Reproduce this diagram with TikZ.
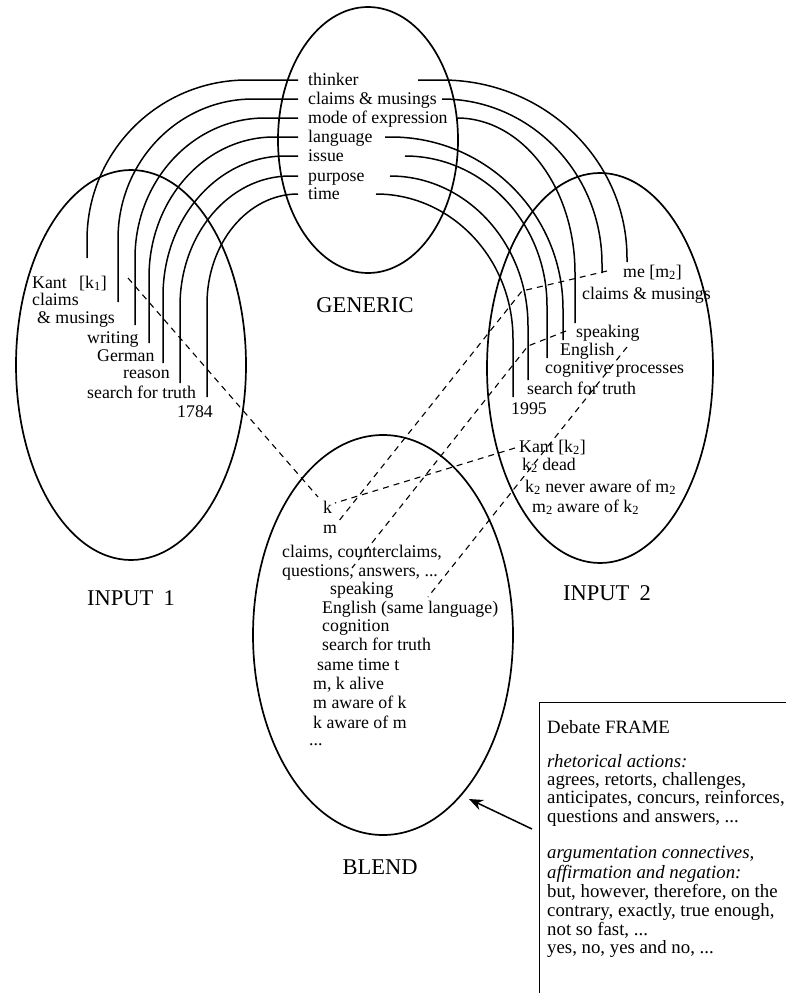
\documentclass[tikz,border=0pt]{standalone}
\usepackage{fontspec}
\setmainfont{Liberation Serif}
\usetikzlibrary{calc,shapes.geometric,arrows.meta}
\begin{document}
\begin{tikzpicture}[x=1pt,y=-1pt,
  txt/.style={anchor=base west,inner sep=0pt,font=\fontsize{17.8}{19}\selectfont},
  ftxt/.style={anchor=base west,inner sep=0pt,font=\fontsize{18.8}{20}\selectfont},
  lbl/.style={inner sep=0pt,font=\fontsize{22.5}{24}\selectfont},
  spacenode/.style={draw,ellipse,line width=1.7pt,inner sep=0pt},
  maparc/.style={line width=1.5pt},
  cross/.style={line width=1.1pt,dash pattern=on 6pt off 5pt},
  larc/.style 2 args={to path={-- ($(\tikztotarget|-\tikztostart)+(#1,0)$)
     .. controls ($(\tikztotarget|-\tikztostart)+({0.4477*#1},0)$) and ($(\tikztotarget|-\tikztostart)+(0,{0.4477*#2})$)
     .. ($(\tikztotarget|-\tikztostart)+(0,#2)$) -- (\tikztotarget)}},
  rarc/.style 2 args={to path={-- ($(\tikztotarget|-\tikztostart)+(-#1,0)$)
     .. controls ($(\tikztotarget|-\tikztostart)+({-0.4477*#1},0)$) and ($(\tikztotarget|-\tikztostart)+(0,{0.4477*#2})$)
     .. ($(\tikztotarget|-\tikztostart)+(0,#2)$) -- (\tikztotarget)}}]
\useasboundingbox (0,0) rectangle (785,993);

% mental spaces
\node[spacenode,minimum width=180pt,minimum height=266pt] (generic) at (368,140) {};
\node[spacenode,minimum width=230pt,minimum height=390pt] (input1) at (131,365) {};
\node[spacenode,minimum width=226pt,minimum height=390pt] (input2) at (600,368) {};
\node[spacenode,minimum width=260pt,minimum height=400pt] (blend) at (383,635) {};

% space labels
\node[lbl] (lgeneric) at (365,305) {GENERIC};
\node[lbl] (linput1) at (131,598) {INPUT\hspace{0.45em}1};
\node[lbl] (linput2) at (607,593) {INPUT\hspace{0.45em}2};
\node[lbl] (lblend) at (380,867) {BLEND};

% generic space
\node[txt] (g1) at (308,85) {thinker};
\node[txt] (g2) at (308,104) {claims \& musings};
\node[txt] (g3) at (308,123) {mode of expression};
\node[txt] (g4) at (308,142) {language};
\node[txt] (g5) at (308,161) {issue};
\node[txt] (g6) at (308,181) {purpose};
\node[txt] (g7) at (308,199) {time};

% input 1
\node[txt] (a1t) at (32,288) {Kant\hspace{0.7em}[k\textsubscript{1}]};
\node[txt] (a2t) at (32,305) {claims};
\node[txt] (a2u) at (37,323) {\& musings};
\node[txt] (a3t) at (87,343) {writing};
\node[txt] (a4t) at (97,361) {German};
\node[txt] (a5t) at (123,378) {reason};
\node[txt] (a6t) at (87,398) {search for truth};
\node[txt] (a7t) at (177,417) {1784};

% input 2
\node[txt] (b1t) at (623,277) {me [m\textsubscript{2}]};
\node[txt] (b2t) at (582,299) {claims \& musings};
\node[txt] (b3t) at (576,337) {speaking};
\node[txt] (b4t) at (560,355) {English};
\node[txt] (b5t) at (545,373) {cognitive processes};
\node[txt] (b6t) at (527,394) {search for truth};
\node[txt] (b7t) at (511,414) {1995};
\node[txt] (b8t) at (519,452) {Kant [k\textsubscript{2}]};
\node[txt] (b9t) at (522,470) {k\textsubscript{2} dead};
\node[txt] (b10t) at (525,492) {k\textsubscript{2} never aware of m\textsubscript{2}};
\node[txt] (b11t) at (532,512) {m\textsubscript{2} aware of k\textsubscript{2}};

% blend
\node[txt] (c1) at (323,513) {k};
\node[txt] (c2) at (323,533) {m};
\node[txt] (c3) at (282,557) {claims, counterclaims,};
\node[txt] (c4) at (282,576) {questions, answers, ...};
\node[txt] (c5) at (330,594) {speaking};
\node[txt] (c6) at (322,613) {English (same language)};
\node[txt] (c7) at (322,631) {cognition};
\node[txt] (c8) at (322,650) {search for truth};
\node[txt] (c9) at (317,670) {same time t};
\node[txt] (c10) at (313,689) {m, k alive};
\node[txt] (c11) at (313,708) {m aware of k};
\node[txt] (c12) at (313,728) {k aware of m};
\node[txt] (c13) at (309,745) {...};

% arc end points
\coordinate (gl1) at (298,80);  \coordinate (gl2) at (298,99);  \coordinate (gl3) at (298,118);
\coordinate (gl4) at (298,137); \coordinate (gl5) at (298,156); \coordinate (gl6) at (298,176);
\coordinate (gl7) at (298,194);
\coordinate (gr1) at (418,80);  \coordinate (gr2) at (442,99);  \coordinate (gr3) at (457,118);
\coordinate (gr4) at (385,137); \coordinate (gr5) at (405,156); \coordinate (gr6) at (390,176);
\coordinate (gr7) at (376,194);
\coordinate (a1) at (87,258);  \coordinate (a2) at (118,302); \coordinate (a3) at (135,325);
\coordinate (a4) at (149,343); \coordinate (a5) at (163,363); \coordinate (a6) at (180,383);
\coordinate (a7) at (207,397);
\coordinate (b1) at (627,262); \coordinate (b2) at (602,273); \coordinate (b3) at (575,323);
\coordinate (b4) at (563,340); \coordinate (b5) at (547,358); \coordinate (b6) at (528,380);
\coordinate (b7) at (513,397);

% generic -> input 1
\draw[maparc] (gl1) to[larc={160}{160}] (a1);
\draw[maparc] (gl2) to[larc={135}{140}] (a2);
\draw[maparc] (gl3) to[larc={130}{140}] (a3);
\draw[maparc] (gl4) to[larc={125}{140}] (a4);
\draw[maparc] (gl5) to[larc={122}{140}] (a5);
\draw[maparc] (gl6) to[larc={110}{130}] (a6);
\draw[maparc] (gl7) to[larc={91}{110}] (a7);

% generic -> input 2
\draw[maparc] (gr1) to[rarc={185}{178}] (b1);
\draw[maparc] (gr2) to[rarc={160}{165}] (b2);
\draw[maparc] (gr3) to[rarc={118}{155}] (b3);
\draw[maparc] (gr4) to[rarc={172}{172}] (b4);
\draw[maparc] (gr5) to[rarc={142}{150}] (b5);
\draw[maparc] (gr6) to[rarc={138}{150}] (b6);
\draw[maparc] (gr7) to[rarc={137}{145}] (b7);

% cross-space / projection lines
\coordinate (k1s) at (128,278);  \coordinate (kB1) at (318,497);
\coordinate (k2s) at (515,448);  \coordinate (kB2) at (335,503);
\coordinate (m2s) at (607,271);  \coordinate (m2b) at (522,291); \coordinate (mB) at (338,522);
\coordinate (ens) at (566,331);  \coordinate (enb) at (528,346); \coordinate (qB) at (352,568);
\coordinate (cps) at (627,347);  \coordinate (spB) at (428,597);
\draw[cross] (k1s) -- (kB1);
\draw[cross] (k2s) -- (kB2);
\draw[cross] (m2s) -- (m2b) -- (mB);
\draw[cross] (ens) -- (enb) -- (qB);
\draw[cross] (cps) -- (spB);

% debate frame
\node[draw,line width=1.4pt,anchor=north west,minimum width=300pt,minimum height=320pt,inner sep=0pt] (frame) at (539,702) {};
\node[ftxt] (f1) at (547,733) {Debate FRAME};
\node[ftxt] (f2) at (547,767) {\itshape rhetorical actions:};
\node[ftxt] (f3) at (547,785) {agrees, retorts, challenges,};
\node[ftxt] (f4) at (547,803) {anticipates, concurs, reinforces,};
\node[ftxt] (f5) at (547,822) {questions and answers, ...};
\node[ftxt] (f6) at (547,858) {\itshape argumentation connectives,};
\node[ftxt] (f7) at (547,878) {\itshape affirmation and negation:};
\node[ftxt] (f8) at (547,897) {but, however, therefore, on the};
\node[ftxt] (f9) at (547,916) {contrary, exactly, true enough,};
\node[ftxt] (f10) at (547,935) {not so fast, ...};
\node[ftxt] (f11) at (547,953) {yes, no, yes and no, ...};

\coordinate (arrS) at (532,829);
\coordinate (arrE) at (469,799);
\draw[line width=1.5pt,-{Stealth[length=14pt,width=11pt]}] (arrS) -- (arrE);
\end{tikzpicture}
\end{document}
